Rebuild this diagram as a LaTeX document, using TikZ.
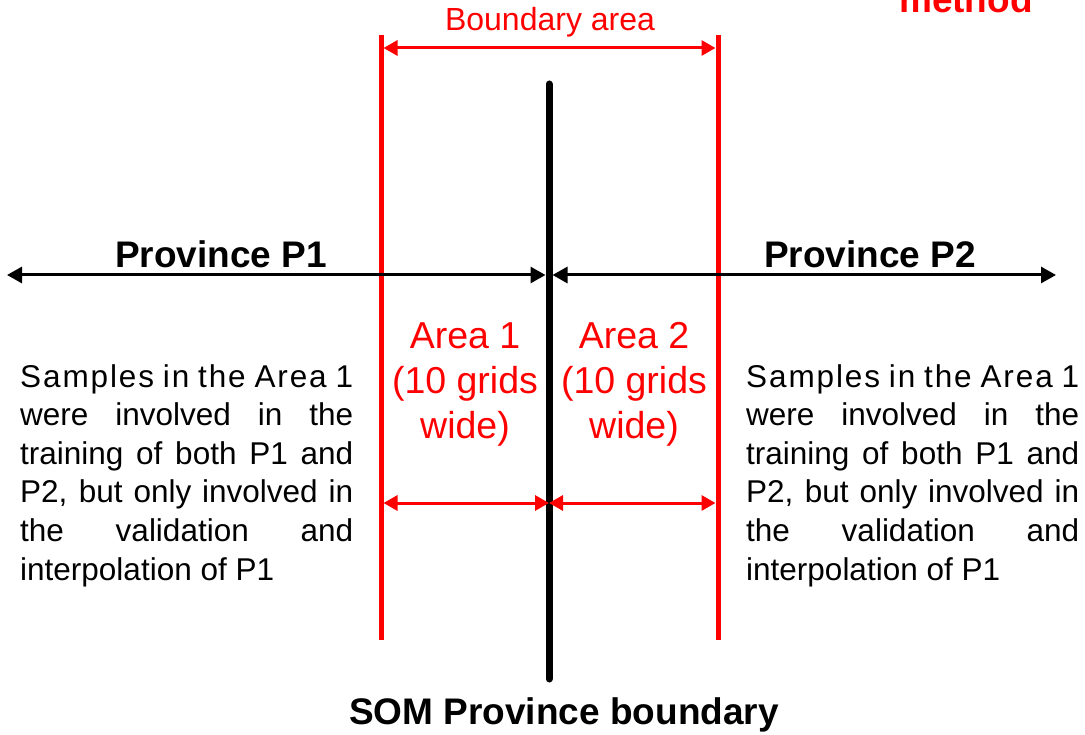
\documentclass[tikz,border=0pt]{standalone}
\usepackage{fontspec}
\setmainfont{Liberation Sans}
\usetikzlibrary{arrows.meta}
\definecolor{rd}{RGB}{255,0,0}
\newcommand{\spaced}[1]{{\addfontfeatures{LetterSpace=6}#1}}
\tikzset{
  redline/.style={draw=rd, line width=5pt},
  blackline/.style={draw=black, line width=7pt, line cap=round},
  redarrow/.style={draw=rd, line width=3pt, {Triangle[length=14pt,width=15pt]}-{Triangle[length=14pt,width=15pt]}},
  blackarrow/.style={draw=black, line width=3pt, {Triangle[length=15pt,width=16pt]}-{Triangle[length=15pt,width=16pt]}},
  bodytext/.style={text width=333pt, align=justify, inner sep=0pt, font=\fontsize{31.5}{38.6}\selectfont, anchor=north west},
  areatext/.style={text=rd, align=center, inner sep=0pt, font=\fontsize{37.5}{45}\selectfont},
  title/.style={font=\fontsize{37}{42}\selectfont\bfseries, inner sep=0pt}
}
\begin{document}
\begin{tikzpicture}[x=1pt,y=-1pt]
\useasboundingbox (0,0) rectangle (1085,735);
\clip (0,0) rectangle (1085,735);
% vertical lines
\coordinate (r1t) at (381,35); \coordinate (r1b) at (381,640);
\coordinate (r2t) at (718,35); \coordinate (r2b) at (718,640);
\coordinate (bt) at (549,84); \coordinate (bb) at (549,679);
\draw[redline] (r1t) -- (r1b);
\draw[redline] (r2t) -- (r2b);
\draw[blackline] (bt) -- (bb);
% boundary area arrow
\coordinate (ba1) at (383.5,48); \coordinate (ba2) at (715.5,48);
\draw[redarrow] (ba1) -- (ba2);
\node[text=rd, font=\fontsize{32}{36}\selectfont, inner sep=0pt] (bnd) at (550,22) {Boundary area};
% method
\node[text=rd, font=\fontsize{37}{42}\selectfont\bfseries, inner sep=0pt, anchor=base] (meth) at (966,13) {method};
% bottom red arrows
\coordinate (a1l) at (383.5,503); \coordinate (mid) at (549,503); \coordinate (a2r) at (715.5,503);
\draw[redarrow] (a1l) -- (mid);
\draw[redarrow] (mid) -- (a2r);
% black horizontal arrows
\coordinate (hl) at (7,275); \coordinate (hm1) at (545.5,275);
\coordinate (hm2) at (552.5,275); \coordinate (hr) at (1056,275);
\draw[blackarrow] (hl) -- (hm1);
\draw[blackarrow] (hm2) -- (hr);
% titles
\node[title] (p1) at (221,254) {Province P1};
\node[title] (p2) at (870,254) {Province P2};
\node[title] (som) at (564,715) {SOM Province boundary};
% area texts
\node[areatext] (ar1) at (465,384) {Area 1\\(10 grids\\wide)};
\node[areatext] (ar2) at (634,384) {Area 2\\(10 grids\\wide)};
% body texts
\node[bodytext] (t1) at (20,364) {\spaced{Samples in the Area 1}\linebreak were involved in the\linebreak training of both P1 and\linebreak P2, but only involved in\linebreak the validation and\linebreak interpolation of P1};
\node[bodytext] (t2) at (746,364) {\spaced{Samples in the Area 1}\linebreak were involved in the\linebreak training of both P1 and\linebreak P2, but only involved in\linebreak the validation and\linebreak interpolation of P1};
\end{tikzpicture}
\end{document}
